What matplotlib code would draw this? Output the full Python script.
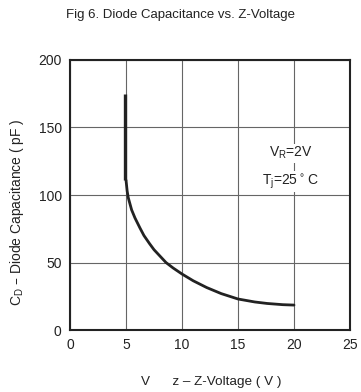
import matplotlib.pyplot as plt

plt.rcParams['font.family'] = ['Liberation Sans Narrow', 'Liberation Sans', 'DejaVu Sans']

vz = [4.95, 4.95, 5.0, 5.1, 5.2, 5.5, 5.8, 6.25, 6.6, 7.1, 7.5, 8.57, 9.2, 10.0, 11.0, 12.2, 13.5, 15.0, 16.5, 17.6, 19.0, 20.0]
cd = [175, 111, 111, 103, 98, 89, 83, 75.5, 70, 64, 59.5, 50, 46, 41.5, 36.5, 31.5, 27, 23, 20.8, 19.7, 18.8, 18.5]
xticks = [0, 5, 10, 15, 20, 25]
yticks = [0, 50, 100, 150, 200]

fig = plt.figure(figsize=(3.61, 3.92), dpi=100)
ax = fig.add_axes([0.194, 0.158, 0.7755, 0.689])

# curve: vertical part then the decay
ax.plot(vz[:2], cd[:2], color='#222222', lw=2.4, solid_capstyle='butt', zorder=3)
ax.plot(vz[2:], cd[2:], color='#222222', lw=2.0, solid_capstyle='round', zorder=3)

ax.set_xlim(0, 25)
ax.set_ylim(0, 200)
ax.set_xticks(xticks)
ax.set_yticks(yticks)
ax.grid(True, color='#666666', lw=0.8)
ax.tick_params(length=0, labelsize=10, pad=6, colors='#222222')
for s in ax.spines.values():
    s.set_color('#222222')
    s.set_linewidth(1.5)
ax.set_axisbelow(True)

ax.text(19.7, 131, r'V$_\mathregular{R}$=2V', ha='center', va='center', fontsize=10,
        color='#222222', bbox=dict(facecolor='white', edgecolor='none', pad=1))
ax.text(19.7, 110, r'T$_\mathregular{j}$=25$^\circ$C', ha='center', va='center', fontsize=10,
        color='#222222', bbox=dict(facecolor='white', edgecolor='none', pad=1))

fig.text(0.5, 0.962, 'Fig 6. Diode Capacitance vs. Z-Voltage', ha='center', va='center',
         fontsize=9.5, color='#222222')
fig.text(0.586, 0.026, 'V      z – Z-Voltage ( V )', ha='center', va='center',
         fontsize=9.7, color='#222222')
fig.text(0.047, 0.459, r'C$\mathregular{_D}$ – Diode Capacitance ( pF )', ha='center', va='center',
         rotation=90, fontsize=10, color='#222222')

fig.savefig('out.png', dpi=100)
